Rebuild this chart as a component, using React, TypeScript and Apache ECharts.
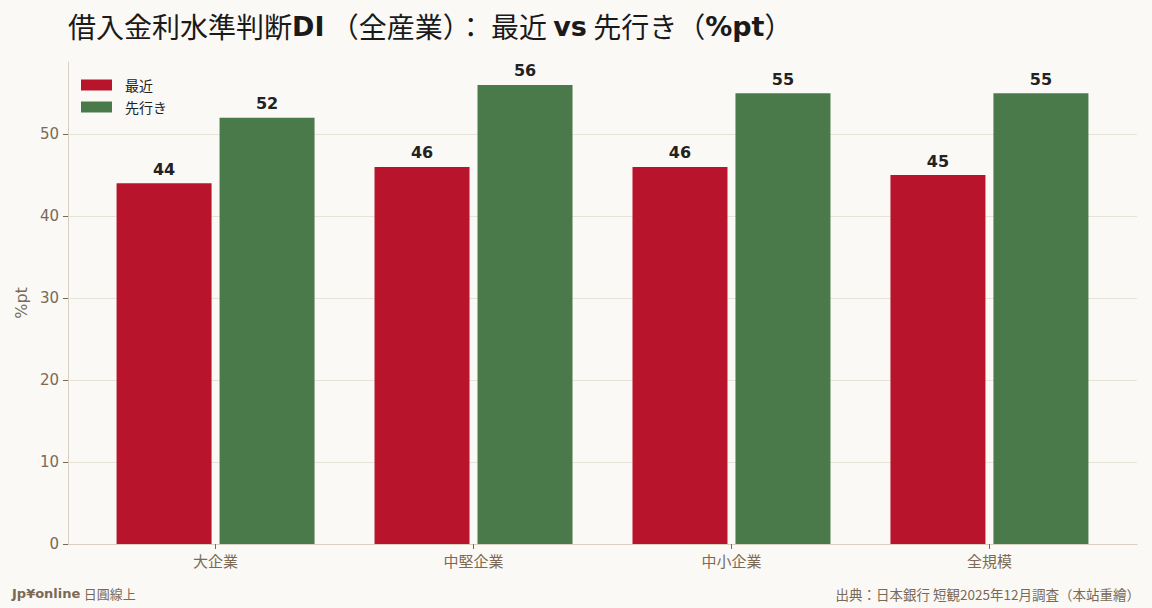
import { useRef, useEffect } from "react";
import * as echarts from "echarts";

// 借入金利水準判断DI（全産業）
const categories = ["大企業", "中堅企業", "中小企業", "全規模"];
const recent = [44, 46, 46, 45];
const forecast = [52, 56, 55, 55];
const yTicks = [0, 10, 20, 30, 40, 50];

const RED = "#b8152c";
const GREEN = "#4a7a4a";
const MUTED = "#7a6a55";
const CJK = "'Noto Sans CJK JP', 'Noto Sans', sans-serif";
const LATIN = "'DejaVu Sans', sans-serif";

const App = () => {
  const chartRef = useRef<HTMLDivElement>(null);

  useEffect(() => {
    document.body.style.margin = "0";
    const myChart = echarts.init(chartRef.current, null, { renderer: "svg" });

    const valueLabel = {
      show: true,
      position: "top" as const,
      distance: 6,
      color: "#222",
      fontSize: 16,
      fontWeight: "bold" as const,
      fontFamily: LATIN,
    };
    const catIdx = categories.map((_, i) => i);

    const option = {
      animation: false,
      backgroundColor: "#faf9f6",
      textStyle: { fontFamily: CJK },
      title: {
        left: 63,
        top: 7,
        text: "{c|借入金利水準判断}{b|DI}{c| （全産業）： 最近 }{b|vs}{c| 先行き（}{b|%pt}{c|）}",
        textStyle: {
          rich: {
            c: { fontFamily: CJK, fontSize: 28, fontWeight: "normal", color: "#1a1a1a" },
            b: { fontFamily: LATIN, fontSize: 27, fontWeight: "bold", color: "#1a1a1a" },
          },
        },
      },
      legend: {
        orient: "vertical",
        left: 76,
        top: 73,
        icon: "rect",
        itemWidth: 31,
        itemHeight: 11,
        itemGap: 8,
        textStyle: { fontSize: 14, color: "#222", fontFamily: CJK, padding: [0, 0, 0, 8] },
        data: ["最近", "先行き"],
      },
      grid: { left: 68, right: 15, top: 62, bottom: 64 },
      xAxis: {
        type: "value",
        min: -0.572,
        max: 3.572,
        axisLine: { show: true, onZero: false, lineStyle: { color: "#d8d0c0" } },
        axisTick: { show: true, customValues: catIdx, length: 5, lineStyle: { color: MUTED } },
        axisLabel: {
          customValues: catIdx,
          formatter: (v: number) => categories[Math.round(v)] ?? "",
          color: MUTED,
          fontSize: 15,
          margin: 9,
          fontFamily: CJK,
        },
        splitLine: { show: false },
      },
      yAxis: {
        type: "value",
        min: 0,
        max: 58.8,
        name: "%pt",
        nameLocation: "middle",
        nameGap: 37,
        nameTextStyle: { color: MUTED, fontSize: 16, fontFamily: LATIN },
        axisLine: { show: true, onZero: false, lineStyle: { color: "#d8d0c0" } },
        axisTick: { show: true, customValues: yTicks, length: 5, lineStyle: { color: MUTED } },
        axisLabel: {
          customValues: yTicks,
          color: MUTED,
          fontSize: 15,
          margin: 9,
          fontFamily: LATIN,
        },
        splitLine: { lineStyle: { color: "#e8e3d8" } },
      },
      series: [
        {
          name: "最近",
          type: "bar",
          data: recent.map((v, i) => [i, v]),
          barWidth: 95,
          barGap: "8.4%",
          itemStyle: { color: RED },
          label: valueLabel,
        },
        {
          name: "先行き",
          type: "bar",
          data: forecast.map((v, i) => [i, v]),
          barWidth: 95,
          itemStyle: { color: GREEN },
          label: valueLabel,
        },
      ],
      graphic: [
        {
          type: "text",
          left: 12,
          top: 587,
          style: {
            text: "{b|Jp¥online} {c|日圓線上}",
            rich: {
              b: { fontFamily: LATIN, fontWeight: "bold", fontSize: 13, fill: MUTED },
              c: { fontFamily: CJK, fontSize: 13, fill: MUTED },
            },
          },
        },
        {
          type: "text",
          right: 12,
          top: 587,
          style: {
            text: "出典：日本銀行 短観2025年12月調査（本站重繪）",
            font: `13.5px ${CJK}`,
            fill: MUTED,
          },
        },
      ],
    };

    myChart.setOption(option);

    return () => {
      myChart.dispose();
    };
  }, []);

  return <div ref={chartRef} style={{ width: "1152px", height: "608px" }}></div>;
};

export default App;
